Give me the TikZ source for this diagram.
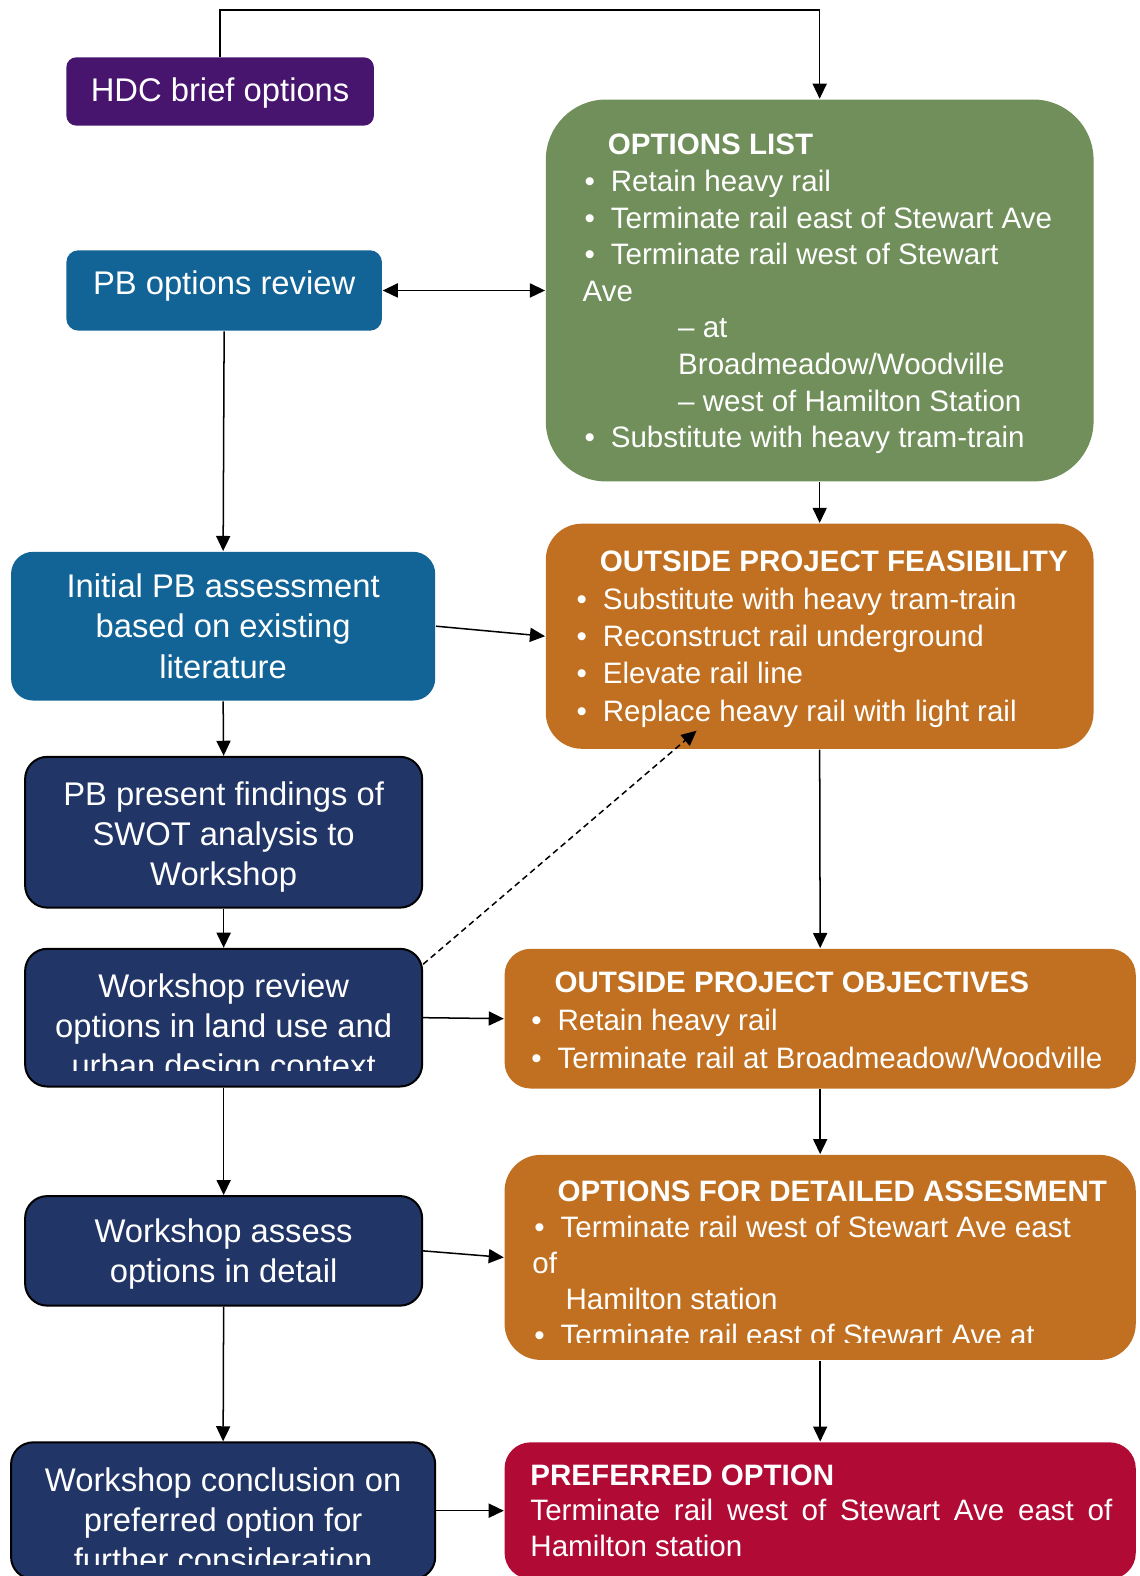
\documentclass[tikz,border=0pt]{standalone}
\usepackage{fontspec}
\setmainfont{Liberation Sans}
\usetikzlibrary{arrows.meta}

\definecolor{hdcpurple}{HTML}{47146E}
\definecolor{pbblue}{HTML}{136496}
\definecolor{listgreen}{HTML}{718F5A}
\definecolor{outorange}{HTML}{C07020}
\definecolor{wsnavy}{HTML}{213567}
\definecolor{prefred}{HTML}{B00A35}

\newcommand\itm[1]{\makebox[14pt][l]{\hspace{1pt}\textbullet}#1}
\newcommand\nudge[2]{\raisebox{#1}[\height][\depth]{#2}}

\begin{document}
\begin{tikzpicture}[x=0.5pt, y=-0.5pt, line width=0.75pt,
   >={Triangle[length=7.5pt,width=7pt]},
   box/.style={rectangle, inner sep=0pt, text=white, align=center,
      font=\fontsize{16.3}{20}\selectfont},
   ws/.style={box, fill=wsnavy, draw=black, line width=1pt, rounded corners=11pt,
      minimum width=197.5pt},
   rbox/.style={rectangle, inner sep=0pt, fill=outorange, minimum width=314pt},
   list/.style={anchor=west, inner sep=0pt, text=white, align=left}]
   \clip (0,0) rectangle (1134,1568);

   % left column
   \node (hdc) at (219,91) [box, fill=hdcpurple, rounded corners=5pt,
      minimum width=153pt, minimum height=34pt] {\nudge{-1pt}{HDC brief options}};
   \node (pbrev) at (223,289) [box, fill=pbblue, rounded corners=6pt,
      minimum width=157pt, minimum height=40pt] {\nudge{2pt}{PB options review}};
   \node (initial) at (222,623) [box, fill=pbblue, rounded corners=11pt,
      minimum width=211pt, minimum height=74pt] {Initial PB assessment\\
based on existing\\
literature};
   \node (pbpres) at (222.5,828) [ws, minimum height=75pt] {\nudge{-2.5pt}{PB present findings of}\\
\nudge{-2.5pt}{SWOT analysis to}\\
\nudge{-2.5pt}{Workshop}};
   \node (wsrev) at (222.5,1012.5) [ws, minimum height=68.5pt] {};
   \begin{scope}
      \clip (25,944) rectangle (420,1065);
      \node (wsrev-txt) at (222.5,1024) [box] {Workshop review\\
options in land use and\\
urban design context};
   \end{scope}
   \node (wsass) at (222.5,1244.5) [ws, minimum height=54.5pt] {\nudge{-1.5pt}{Workshop assess}\\
\nudge{-1.5pt}{options in detail}};
   \node (concl) at (222,1503) [ws, minimum width=211pt, minimum height=68pt] {};
   \begin{scope}
      \clip (11,1435) rectangle (433,1557);
      \node (concl-txt) at (222,1512) [box] {Workshop conclusion on\\
preferred option for\\
further consideration};
   \end{scope}

   % right column
   \node (optlist) at (815.5,289) [rectangle, fill=listgreen, rounded corners=30pt,
      minimum width=272.5pt, minimum height=190pt] {};
   \node (optlist-txt) at (579,292.5) [list, font=\fontsize{14.7}{18.2}\selectfont]
      {\hspace*{12.5pt}\textbf{OPTIONS LIST}\\
\itm{Retain heavy rail}\\
\itm{Terminate rail east of Stewart Ave}\\
\itm{Terminate rail west of Stewart}\\
Ave\\
\hspace*{47.5pt}-- at\\
\hspace*{47.5pt}Broadmeadow/Woodville\\
\hspace*{47.5pt}-- west of Hamilton Station\\
\itm{Substitute with heavy tram-train}};
   \node (feas) at (815.5,633) [rbox, rounded corners=18pt,
      minimum width=272.5pt, minimum height=112pt] {};
   \node (feas-txt) at (571,636) [list, font=\fontsize{14.7}{18.6}\selectfont]
      {\hspace*{12.5pt}\textbf{OUTSIDE PROJECT FEASIBILITY}\\
\itm{Substitute with heavy tram-train}\\
\itm{Reconstruct rail underground}\\
\itm{Elevate rail line}\\
\itm{Replace heavy rail with light rail}};
   \node (obj) at (816,1013.5) [rbox, rounded corners=13pt, minimum height=69.5pt] {};
   \node (obj-txt) at (526,1015) [list, font=\fontsize{14.7}{18.75}\selectfont]
      {\hspace*{12.5pt}\textbf{OUTSIDE PROJECT OBJECTIVES}\\
\itm{Retain heavy rail}\\
\itm{Terminate rail at Broadmeadow/Woodville}};
   \node (detail) at (816,1251) [rbox, rounded corners=18pt, minimum height=102pt] {};
   \begin{scope}
      \clip (502,1149) rectangle (1130,1336);
      \node (detail-txt) at (529,1256.5) [list, font=\fontsize{14.7}{17.9}\selectfont]
         {\hspace*{12.5pt}\textbf{OPTIONS FOR DETAILED ASSESMENT}\\
\itm{Terminate rail west of Stewart Ave east}\\
of\\
\hspace*{16.5pt}Hamilton station\\
\itm{Terminate rail east of Stewart Ave at}};
   \end{scope}
   \node (pref) at (816,1503) [rbox, fill=prefred, rounded corners=13pt,
      minimum height=68pt] {};
   \node (pref-txt) at (527,1503) [list, font=\fontsize{14.7}{17.5}\selectfont]
      {\textbf{PREFERRED OPTION}\\
\makebox[289.5pt][s]{Terminate rail west of Stewart Ave east of}\\
Hamilton station};

   \coordinate (toprow) at (0,10);
   \coordinate (feasin) at (693,727);

   \draw (hdc.north)[->] |- (toprow -| optlist.north) -- (optlist.north);
   \draw (pbrev.east)[<->] -- (optlist.west);
   \draw (pbrev.south)[->] -- (initial.north);
   \draw (optlist.south)[->] -- (feas.north);
   \draw (initial.east)[->] -- (feas.west);
   \draw (initial.south)[->] -- (pbpres.north);
   \draw (pbpres.south)[->] -- (wsrev.north);
   \draw (wsrev.15)[->, dash pattern=on 3pt off 2pt] -- (feasin);
   \draw (wsrev.east)[->] -- (obj.west);
   \draw (feas.south)[->] -- (obj.north);
   \draw (obj.south)[->] -- (detail.north);
   \draw (wsrev.south)[->] -- (wsass.north);
   \draw (wsass.east)[->] -- (detail.west);
   \draw (wsass.south)[->] -- (concl.north);
   \draw (detail.south)[->] -- (pref.north);
   \draw (concl.east)[->] -- (pref.west);

\end{tikzpicture}
\end{document}
